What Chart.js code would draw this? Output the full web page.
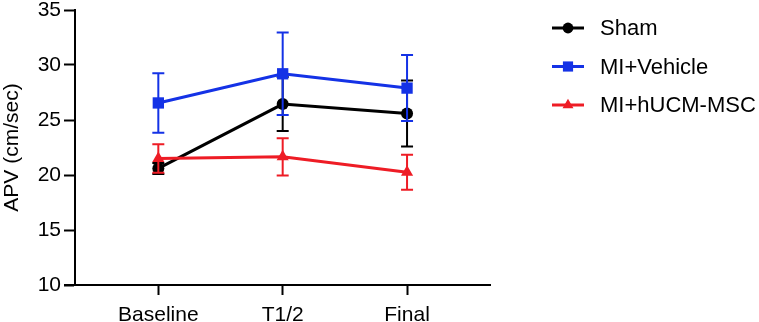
<!DOCTYPE html>
<html>
<head>
<meta charset="utf-8">
<script src="https://cdn.jsdelivr.net/npm/chart.js@4/dist/chart.umd.min.js"></script>
<style>
  html, body { margin: 0; padding: 0; background: #fff; }
  #wrap { width: 759px; height: 322px; position: relative; }
</style>
</head>
<body>
<div id="wrap"><canvas id="myChart"></canvas></div>
<script>
// data (mean and SEM)
var categories = ['Baseline', 'T1/2', 'Final'];
var seriesNames = ['Sham', 'MI+Vehicle', 'MI+hUCM-MSC'];
var sham = [20.6, 26.45, 25.6];
var shamErr = [0.5, 2.45, 3.0];
var vehicle = [26.55, 29.2, 27.9];
var vehicleErr = [2.7, 3.75, 3.0];
var msc = [21.5, 21.65, 20.25];
var mscErr = [1.3, 1.7, 1.6];
var yTicks = [10, 15, 20, 25, 30, 35];

var FONT = "'Liberation Sans', Arial, Helvetica, sans-serif";

function toPoints(arr) {
    return arr.map(function (v, i) { return { x: i, y: v }; });
}

// draws each dataset's error bars just before the dataset itself
var errorBars = {
    id: 'errorBars',
    beforeDatasetDraw: function (chart, args) {
        var ds = chart.data.datasets[args.index];
        if (!ds.errors) return;
        var ctx = chart.ctx;
        var xs = chart.scales.x, ys = chart.scales.y;
        ctx.save();
        ctx.strokeStyle = ds.borderColor;
        ctx.lineWidth = 2;
        ds.data.forEach(function (p, i) {
            var x = xs.getPixelForValue(p.x);
            var top = ys.getPixelForValue(p.y + ds.errors[i]);
            var bot = ys.getPixelForValue(p.y - ds.errors[i]);
            ctx.beginPath();
            ctx.moveTo(x, top); ctx.lineTo(x, bot);
            ctx.moveTo(x - 6, top); ctx.lineTo(x + 6, top);
            ctx.moveTo(x - 6, bot); ctx.lineTo(x + 6, bot);
            ctx.stroke();
        });
        ctx.restore();
    }
};

// small overhang of the x axis to the left of the y axis, and the legend
var extras = {
    id: 'extras',
    afterDraw: function (chart) {
        var ctx = chart.ctx;
        var area = chart.chartArea;
        ctx.save();
        ctx.strokeStyle = '#000';
        ctx.lineWidth = 2;
        ctx.beginPath();
        ctx.moveTo(area.left - 11, area.bottom);
        ctx.lineTo(area.left, area.bottom);
        ctx.stroke();

        chart.data.datasets.forEach(function (ds, i) {
            var y = 28 + i * 38.5;
            ctx.strokeStyle = ds.borderColor;
            ctx.lineWidth = 3;
            ctx.beginPath();
            ctx.moveTo(552, y); ctx.lineTo(584, y);
            ctx.stroke();
            ctx.fillStyle = ds.backgroundColor;
            Chart.helpers.drawPoint(ctx, {
                pointStyle: ds.pointStyle,
                radius: ds.pointRadius * 0.9,
                borderWidth: 0
            }, 568, y);
            ctx.fillStyle = '#000';
            ctx.font = '22px ' + FONT;
            ctx.textBaseline = 'middle';
            ctx.textAlign = 'left';
            ctx.fillText(ds.label, 600, y + 1);
        });
        ctx.restore();
    }
};

var ctx = document.getElementById('myChart').getContext('2d');
var myChart = new Chart(ctx, {
    type: 'line',
    data: {
        datasets: [{
            label: seriesNames[0],
            data: toPoints(sham),
            errors: shamErr,
            borderColor: '#000000',
            backgroundColor: '#000000',
            pointStyle: 'circle',
            pointRadius: 6,
            order: 2
        }, {
            label: seriesNames[1],
            data: toPoints(vehicle),
            errors: vehicleErr,
            borderColor: '#1432e6',
            backgroundColor: '#1432e6',
            pointStyle: 'rect',
            pointRadius: 8,
            order: 1
        }, {
            label: seriesNames[2],
            data: toPoints(msc),
            errors: mscErr,
            borderColor: '#ee1c25',
            backgroundColor: '#ee1c25',
            pointStyle: 'triangle',
            pointRadius: 7,
            order: 0
        }]
    },
    options: {
        responsive: true,
        maintainAspectRatio: false,
        animation: false,
        elements: {
            line: { borderWidth: 3, tension: 0 },
            point: { borderWidth: 0, hoverRadius: 6 }
        },
        layout: { padding: { top: 10, right: 269, left: 0, bottom: 0 } },
        plugins: {
            legend: { display: false },
            tooltip: { enabled: false }
        },
        scales: {
            x: {
                type: 'linear',
                min: -0.67,
                max: 2.667,
                afterBuildTicks: function (scale) {
                    scale.ticks = categories.map(function (c, i) { return { value: i }; });
                },
                afterFit: function (scale) { scale.height = 37; },
                ticks: {
                    callback: function (v) { return categories[v]; },
                    color: '#000',
                    font: { family: FONT, size: 21 },
                    padding: 8,
                    maxRotation: 0
                },
                grid: {
                    drawOnChartArea: false,
                    tickLength: 10,
                    tickWidth: 2,
                    tickColor: '#000'
                },
                border: { color: '#000', width: 2 }
            },
            y: {
                min: 10,
                max: 35,
                afterBuildTicks: function (scale) {
                    scale.ticks = yTicks.map(function (v) { return { value: v }; });
                },
                afterFit: function (scale) {
                    scale.width = 75;
                    scale.paddingTop = 0;
                    scale.paddingBottom = 0;
                },
                ticks: {
                    color: '#000',
                    font: { family: FONT, size: 21 },
                    padding: 3
                },
                grid: {
                    drawOnChartArea: false,
                    tickLength: 11,
                    tickWidth: 2,
                    tickColor: '#000'
                },
                border: { color: '#000', width: 2 },
                title: {
                    display: true,
                    text: 'APV (cm/sec)',
                    color: '#000',
                    font: { family: FONT, size: 21 },
                    padding: 0
                }
            }
        }
    },
    plugins: [errorBars, extras]
});
</script>
</body>
</html>
